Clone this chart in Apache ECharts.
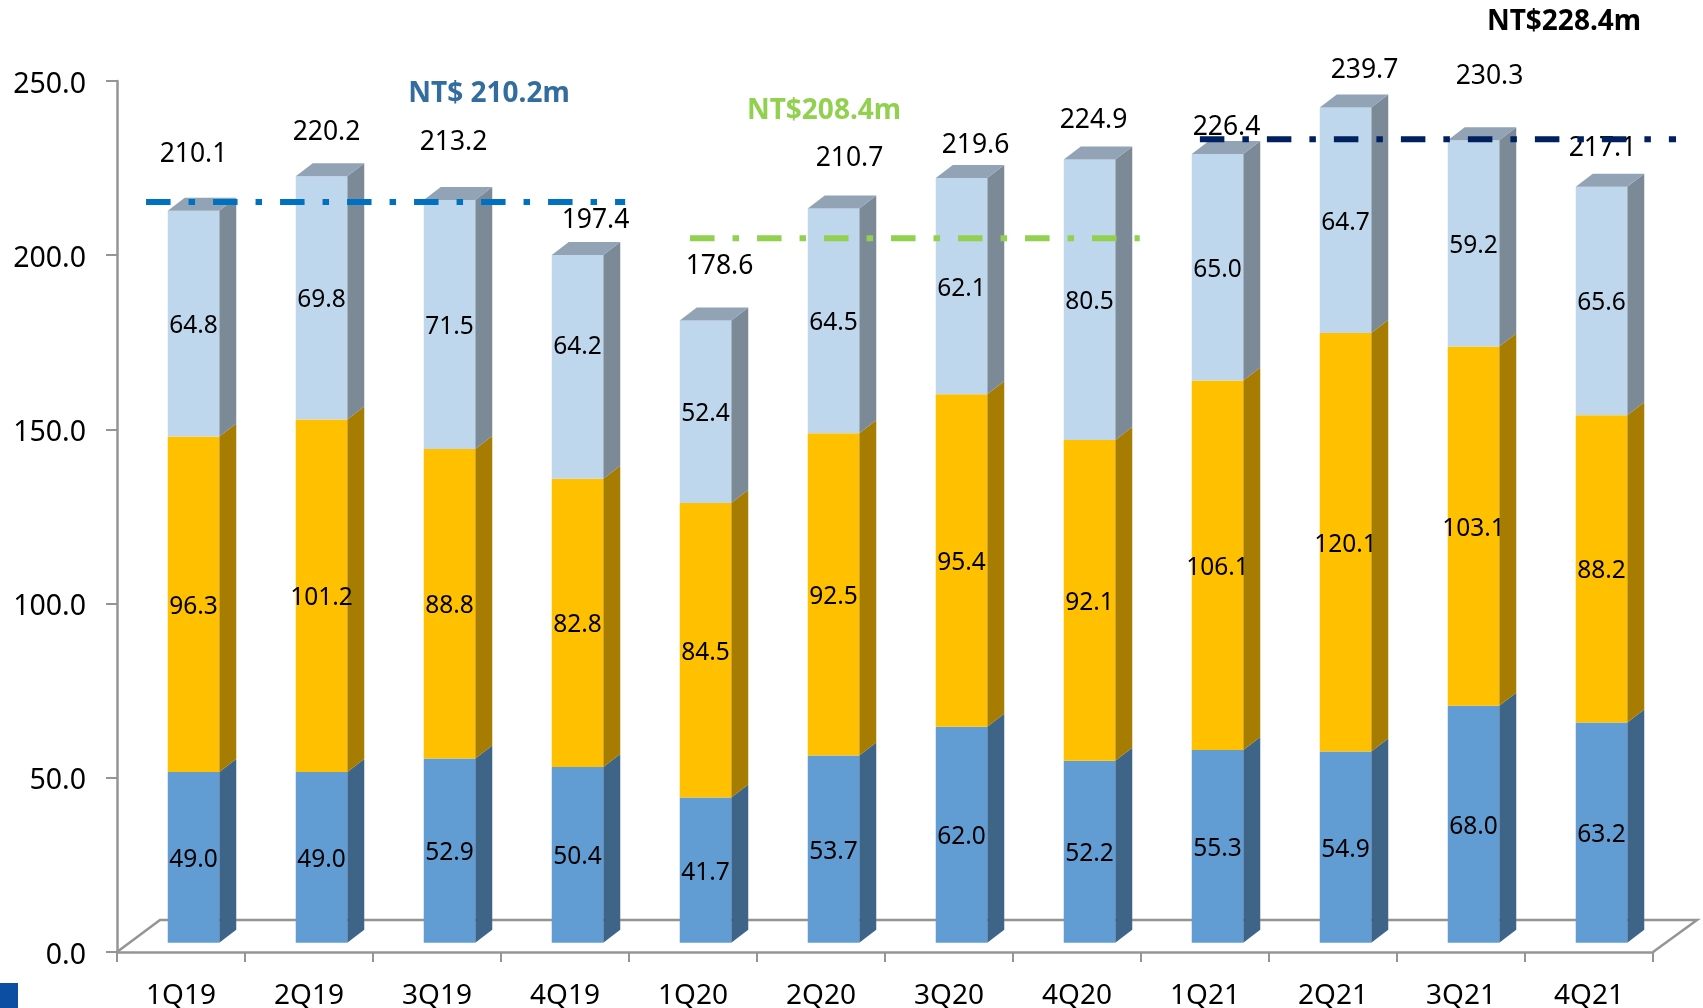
<!DOCTYPE html>
<html>
<head>
<meta charset="utf-8">
<style>html,body{margin:0;padding:0;background:#fff}#c{width:1703px;height:1008px}</style>
<script src="https://cdn.jsdelivr.net/npm/echarts@6/dist/echarts.min.js"></script>
</head>
<body>
<div id="c"></div>
<script>
var categories = ['1Q19','2Q19','3Q19','4Q19','1Q20','2Q20','3Q20','4Q20','1Q21','2Q21','3Q21','4Q21'];
var lowerValues = [49.0,49.0,52.9,50.4,41.7,53.7,62.0,52.2,55.3,54.9,68.0,63.2];
var middleValues = [96.3,101.2,88.8,82.8,84.5,92.5,95.4,92.1,106.1,120.1,103.1,88.2];
var upperValues = [64.8,69.8,71.5,64.2,52.4,64.5,62.1,80.5,65.0,64.7,59.2,65.6];
var totalValues = [210.1,220.2,213.2,197.4,178.6,210.7,219.6,224.9,226.4,239.7,230.3,217.1];
var yTicks = {min:0,max:250,step:50};

// Hand-placed average lines: [from category, to category, axis height]
var line2019 = [0.227,3.97,215.3];
var line2020 = [4.477,7.99,204.9];
var line2021 = [8.46,12.18,233.3];

// Layout (pixels)
var totalLabelLift = [68,55,69,46,66,62,44,50,38,49,76,50];
var totalLabelShift = [0,5,4,18,14,16,14,4,9,19,16,1];
var upperLabelNudge = [0,0,0,-22,0,0,0,0,0,0,0,0];
var depthX = 17, depthY = 13, barW = 51.5, barShift = 12.5, baseLift = 9.3;
var floorX = 43, floorY = 32, textNudge = 2.5;
var axisColor = '#959595';
var font = '"Noto Sans", Tahoma, sans-serif';

function stackData(parts, below){
  return categories.map(function(c,i){
    var b = 0;
    below.forEach(function(a){ b += a[i]; });
    return [i, b, b + parts[i], parts[i]];
  });
}
function poly(points, fill, z){
  return {type:'polygon', z2:z||0, shape:{points:points}, style:{fill:fill}};
}
function barRenderer(front, side, top){
  return function(params, api){
    var i = api.value(0);
    var p0 = api.coord([i, api.value(1)]);
    var p1 = api.coord([i, api.value(2)]);
    var x0 = p0[0] + barShift - barW/2, x1 = x0 + barW;
    var y0 = p0[1] - baseLift, y1 = p1[1] - baseLift;
    var kids = [
      poly([[x1,y0],[x1+depthX,y0-depthY],[x1+depthX,y1-depthY],[x1,y1]], side),
      {type:'rect', shape:{x:x0,y:y1,width:barW,height:y0-y1}, style:{fill:front}}
    ];
    if (top) kids.push(poly([[x0,y1],[x0+depthX,y1-depthY],[x1+depthX,y1-depthY],[x1,y1]], top));
    return {type:'group', children:kids};
  };
}
function labelRenderer(nudge){
  return function(params, api){
    var i = api.value(0);
    var p0 = api.coord([i, api.value(1)]);
    var p1 = api.coord([i, api.value(2)]);
    return {type:'text', x:p0[0]+barShift, y:(p0[1]+p1[1])/2-baseLift+textNudge+(nudge?nudge[i]:0),
      style:{text:api.value(3).toFixed(1), fill:'#000', font:'24.5px '+font, align:'center', verticalAlign:'middle'}};
  };
}
function lineRenderer(color){
  return function(params, api){
    var bw = api.size([1,0])[0];
    var left = api.coord([0, 0])[0] - bw/2;
    var y = api.coord([0, api.value(2)])[1];
    return {type:'line',
      shape:{x1:left+api.value(0)*bw, y1:y, x2:left+api.value(1)*bw, y2:y},
      style:{stroke:color, lineWidth:6, lineDash:[24.5,18,6.5,18]}};
  };
}
function lineSeries(name, row, color){
  return {type:'custom', name:name, z:9, silent:true, renderItem:lineRenderer(color),
    data:[row], encode:{y:2}};
}

var low = stackData(lowerValues, []);
var mid = stackData(middleValues, [lowerValues]);
var up = stackData(upperValues, [lowerValues, middleValues]);

var option = {
  animation:false,
  backgroundColor:'#fff',
  grid:{left:117,right:50,top:81,bottom:56,outerBoundsMode:'none'},
  xAxis:{type:'category', data:categories, boundaryGap:true,
    axisLine:{lineStyle:{color:axisColor,width:2.5}},
    axisTick:{show:true,length:10,alignWithLabel:false,lineStyle:{color:axisColor,width:2}},
    axisLabel:{color:'#000',fontFamily:font,fontSize:28,margin:30,interval:0},
    z:2},
  yAxis:{type:'value', min:yTicks.min, max:yTicks.max, interval:yTicks.step,
    axisLine:{show:true,lineStyle:{color:axisColor,width:2.5}},
    axisTick:{show:true,length:11,lineStyle:{color:axisColor,width:2}},
    splitLine:{show:false},
    axisLabel:{color:'#000',fontFamily:font,fontSize:28.5,margin:31,verticalAlign:'top',lineHeight:7,
      formatter:function(v){return v.toFixed(1);}}},
  graphic:[
    {type:'rect',left:0,top:983,shape:{width:18,height:25},style:{fill:'#0B4EA2'},z:20},
    {type:'text',x:1564,y:22,style:{text:'NT$228.4m',fill:'#000',font:'bold 28px '+font,align:'center',verticalAlign:'middle'},z:20},
    {type:'text',x:489,y:94,style:{text:'NT$ 210.2m',fill:'#336C9F',font:'bold 28px '+font,align:'center',verticalAlign:'middle'},z:20},
    {type:'text',x:824,y:111,style:{text:'NT$208.4m',fill:'#92D050',font:'bold 28px '+font,align:'center',verticalAlign:'middle'},z:20}
  ],
  series:[
    {type:'custom',name:'floor',z:1,silent:true,data:[[0,0]],
      renderItem:function(params,api){
        var bw = api.size([1,0])[0];
        var p = api.coord([0,0]);
        var l = p[0]-bw/2, r = api.coord([categories.length-1,0])[0]+bw/2, y = p[1];
        return {type:'polyline',shape:{points:[[l,y],[l+floorX,y-floorY],[r+floorX+1,y-floorY],[r,y]]},
          style:{fill:null,stroke:axisColor,lineWidth:2.5}};
      }},
    {type:'custom',name:'Lower',z:3,renderItem:barRenderer('#619CD2','#3E6588'),data:low,encode:{x:0,y:2}},
    {type:'custom',name:'Middle',z:3,renderItem:barRenderer('#FFC000','#A67D00'),data:mid,encode:{x:0,y:2}},
    {type:'custom',name:'Upper',z:3,renderItem:barRenderer('#BFD7EC','#7C8A98','#91A3B5'),data:up,encode:{x:0,y:2}},
    {type:'custom',name:'LowerLabels',z:6,silent:true,renderItem:labelRenderer(),data:low,encode:{x:0,y:2}},
    {type:'custom',name:'MiddleLabels',z:6,silent:true,renderItem:labelRenderer(),data:mid,encode:{x:0,y:2}},
    {type:'custom',name:'UpperLabels',z:6,silent:true,renderItem:labelRenderer(upperLabelNudge),data:up,encode:{x:0,y:2}},
    {type:'custom',name:'Totals',z:6,silent:true,
      data:totalValues.map(function(v,i){return [i,v];}),encode:{x:0,y:1},
      renderItem:function(params,api){
        var i = api.value(0), p = api.coord([i,api.value(1)]);
        return {type:'text',x:p[0]+barShift+totalLabelShift[i],y:p[1]-totalLabelLift[i]+textNudge,
          style:{text:api.value(1).toFixed(1),fill:'#000',font:'26.5px '+font,align:'center',verticalAlign:'middle'}};
      }},
    lineSeries('Average 2019', line2019, '#0070C0'),
    lineSeries('Average 2020', line2020, '#92D050'),
    lineSeries('Average 2021', line2021, '#002060')
  ]
};
var chart = echarts.init(document.getElementById('c'), null, {renderer:'canvas', width:1703, height:1008});
chart.setOption(option);
</script>
</body>
</html>
